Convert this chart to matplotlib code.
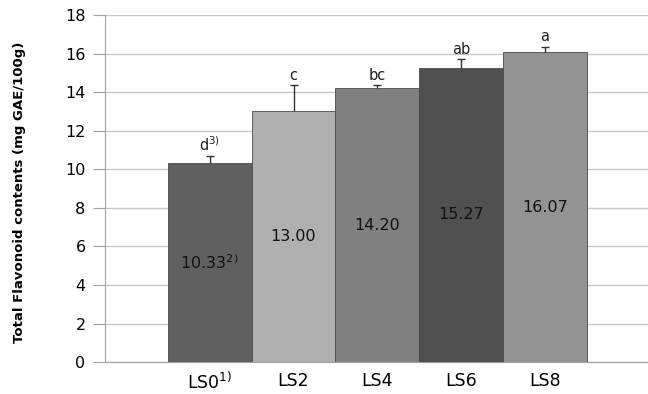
import matplotlib.pyplot as plt
import numpy as np

# data
samples = ['LS0$^{1)}$', 'LS2', 'LS4', 'LS6', 'LS8']
values = [10.33, 13.00, 14.20, 15.27, 16.07]
errors = [0.35, 1.37, 0.17, 0.43, 0.29]
letters = ['d$^{3)}$', 'c', 'bc', 'ab', 'a']
value_labels = ['10.33$^{2)}$', '13.00', '14.20', '15.27', '16.07']
colors = ['#606060', '#b0b0b0', '#808080', '#505050', '#939393']

fig = plt.figure(figsize=(6.48, 3.94), dpi=100)
ax = fig.add_axes([0.162, 0.081, 0.838, 0.881])

x = np.arange(len(values))
ax.bar(x, values, width=1.0, color=colors, edgecolor='#4a4a4a', linewidth=0.6, zorder=3)
eb = ax.errorbar(x, values, yerr=[np.zeros(len(errors)), errors], fmt='none',
                 ecolor='#333333', elinewidth=1, capsize=3, capthick=1, zorder=4)
eb[1][0].set_visible(False)  # hide lower caps

for xi, v, e, lab, vl in zip(x, values, errors, letters, value_labels):
    ax.text(xi, v + e + 0.12, lab, ha='center', va='bottom', fontsize=10.5, color='#222222')
    ax.text(xi, v / 2, vl, ha='center', va='center', fontsize=11.5, color='#111111')

ax.set_xlim(-1.25, 5.23)
ax.set_ylim(0, 18)
ax.set_yticks(range(0, 19, 2))
ax.set_xticks(x)
ax.set_xticklabels(samples, fontsize=12.5)
ax.tick_params(axis='y', labelsize=11.5, length=9, color='#a0a0a0', pad=5)
ax.tick_params(axis='x', length=0, pad=7)
ax.grid(axis='y', color='#c8c8c8', linewidth=1, zorder=0)
ax.set_axisbelow(True)
for s in ['top', 'right']:
    ax.spines[s].set_visible(False)
ax.spines['left'].set_color('#a0a0a0')
ax.spines['bottom'].set_color('#a0a0a0')
ax.set_ylabel('Total Flavonoid contents (mg GAE/100g)', fontsize=9.5, fontweight='bold')
ax.yaxis.set_label_coords(-0.145, 0.49)

fig.savefig('out.png', dpi=100)
